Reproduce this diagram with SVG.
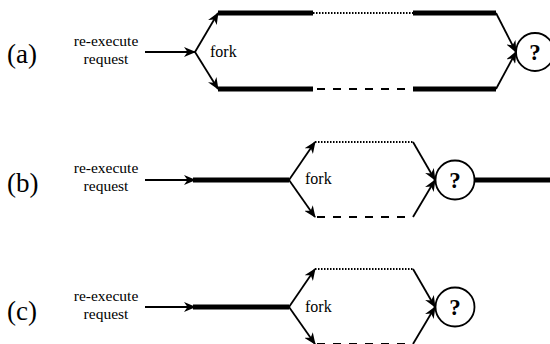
<svg xmlns="http://www.w3.org/2000/svg" width="550" height="344" viewBox="0 0 550 344">
<style>
text{font-family:'Liberation Serif','Times New Roman',serif;fill:#000}
.lbl{font-size:27px}
.sm{font-size:15.5px;text-anchor:middle}
.fk{font-size:16px}
.q{font-size:23px;font-weight:bold;text-anchor:middle}
.thin{stroke:#000;stroke-width:1.8;fill:none}
.thick{stroke:#000;stroke-width:5;fill:none}
.dot{stroke:#000;stroke-width:2;stroke-dasharray:1.5 1.5;fill:none}
.dash{stroke:#000;stroke-width:2;stroke-dasharray:8 8;fill:none}
.circ{stroke:#000;stroke-width:1.8;fill:#fff}
</style>
<defs>
<marker id="ah" viewBox="0 0 12 10" refX="11" refY="5" markerWidth="12" markerHeight="10" markerUnits="userSpaceOnUse" orient="auto">
<path d="M0,0 L12,5 L0,10 L3.5,5 z" fill="#000"/>
</marker>
</defs>
<g id="labels">
<text class="lbl" x="7" y="63">(a)</text>
<text class="lbl" x="7" y="192">(b)</text>
<text class="lbl" x="7" y="320">(c)</text>
</g>
<g id="req-a"><text class="sm" x="106" y="46">re-execute</text><text class="sm" x="106" y="64">request</text></g>
<g id="req-b"><text class="sm" x="106" y="173">re-execute</text><text class="sm" x="106" y="191">request</text></g>
<g id="req-c"><text class="sm" x="106" y="301">re-execute</text><text class="sm" x="106" y="319">request</text></g>
<g id="fork-a"><text class="fk" x="210" y="57">fork</text></g>
<g id="fork-b"><text class="fk" x="305" y="184">fork</text></g>
<g id="fork-c"><text class="fk" x="305" y="312">fork</text></g>
<g id="join-a"><circle class="circ" cx="535" cy="52" r="19"/><text class="q" x="535" y="60">?</text></g>
<g id="join-b"><circle class="circ" cx="455" cy="180" r="19.5"/><text class="q" x="455" y="188">?</text></g>
<g id="join-c"><circle class="circ" cx="455" cy="307" r="19.5"/><text class="q" x="455" y="315">?</text></g>
<g id="connectors">
<line class="thin" x1="145" y1="52" x2="195" y2="52" marker-end="url(#ah)"/>
<line class="thin" x1="195" y1="52" x2="218" y2="13" marker-end="url(#ah)"/>
<line class="thin" x1="195" y1="52" x2="218" y2="89" marker-end="url(#ah)"/>
<line class="thick" x1="218" y1="13" x2="313" y2="13"/>
<line class="dot" x1="313" y1="13" x2="413" y2="13"/>
<line class="thick" x1="413" y1="13" x2="496" y2="13"/>
<line class="thick" x1="218" y1="89" x2="313" y2="89"/>
<line class="dash" x1="317" y1="89" x2="413" y2="89"/>
<line class="thick" x1="413" y1="89" x2="496" y2="89"/>
<line class="thin" x1="496" y1="13" x2="516" y2="52" marker-end="url(#ah)"/>
<line class="thin" x1="496" y1="89" x2="516" y2="52" marker-end="url(#ah)"/>
<line class="thin" x1="145" y1="180" x2="195" y2="180" marker-end="url(#ah)"/>
<line class="thick" x1="193" y1="180" x2="289" y2="180"/>
<line class="thin" x1="289" y1="180" x2="315" y2="142" marker-end="url(#ah)"/>
<line class="thin" x1="289" y1="180" x2="315" y2="217" marker-end="url(#ah)"/>
<line class="dot" x1="315" y1="142" x2="413" y2="142"/>
<line class="dash" x1="317" y1="217" x2="413" y2="217"/>
<line class="thin" x1="413" y1="142" x2="435" y2="180" marker-end="url(#ah)"/>
<line class="thin" x1="413" y1="217" x2="435" y2="180" marker-end="url(#ah)"/>
<line class="thick" x1="475" y1="180" x2="550" y2="180"/>
<line class="thin" x1="145" y1="307" x2="195" y2="307" marker-end="url(#ah)"/>
<line class="thick" x1="193" y1="307" x2="289" y2="307"/>
<line class="thin" x1="289" y1="307" x2="315" y2="269" marker-end="url(#ah)"/>
<line class="thin" x1="289" y1="307" x2="315" y2="344" marker-end="url(#ah)"/>
<line class="dot" x1="315" y1="269" x2="413" y2="269"/>
<line class="dash" x1="317" y1="344" x2="413" y2="344"/>
<line class="thin" x1="413" y1="269" x2="435" y2="307" marker-end="url(#ah)"/>
<line class="thin" x1="413" y1="344" x2="435" y2="307" marker-end="url(#ah)"/>
</g>
</svg>
